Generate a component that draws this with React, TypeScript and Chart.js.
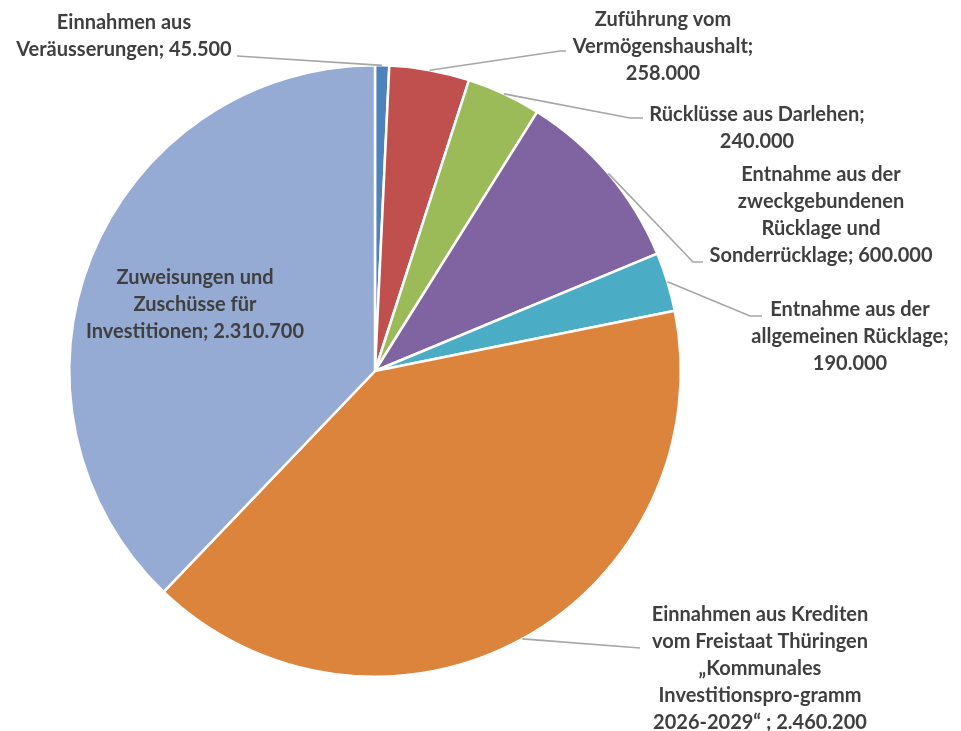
import React, { useEffect, useRef } from "react";
import { Chart, registerables } from "chart.js";

Chart.register(...registerables);

const categories: string[] = [
  "Einnahmen aus\nVeräusserungen",
  "Zuführung vom\nVermögenshaushalt",
  "Rücklüsse aus Darlehen",
  "Entnahme aus der\nzweckgebundenen\nRücklage und\nSonderrücklage",
  "Entnahme aus der\nallgemeinen Rücklage",
  "Einnahmen aus Krediten\nvom Freistaat Thüringen\n„Kommunales\nInvestitionspro-gramm\n2026-2029“ ",
  "Zuweisungen und\nZuschüsse für\nInvestitionen",
];

const values: number[] = [45500, 258000, 240000, 600000, 190000, 2460200, 2310700];

const colors: string[] = [
  "#4F81BD",
  "#C0504D",
  "#9BBB59",
  "#8064A2",
  "#4BACC6",
  "#DC843B",
  "#95ABD3",
];

// label layout (text block centre x, first line centre y, leader end / elbow)
type LabelLayout = {
  cx: number;
  y0: number;
  valueNewLine: boolean;
  inside?: boolean;
  end?: [number, number];
  elbow?: [number, number];
};

const labelLayout: LabelLayout[] = [
  { cx: 124, y0: 23, valueNewLine: false, end: [237, 56] },
  { cx: 663, y0: 20, valueNewLine: true, elbow: [560, 51], end: [566, 51] },
  { cx: 757, y0: 115, valueNewLine: true, elbow: [630, 118], end: [643, 118] },
  { cx: 821, y0: 175, valueNewLine: false, elbow: [693, 262], end: [703, 262] },
  { cx: 850, y0: 310, valueNewLine: true, elbow: [750, 316], end: [762, 316] },
  { cx: 760, y0: 615, valueNewLine: false, end: [640, 648] },
  { cx: 195, y0: 278, valueNewLine: false, inside: true },
];

const fmt = (v: number) => String(v).replace(/\B(?=(\d{3})+(?!\d))/g, ".");

const labelPlugin = {
  id: "pieLabels",
  afterDatasetsDraw(chart: any) {
    const ctx = chart.ctx as CanvasRenderingContext2D;
    const meta = chart.getDatasetMeta(0);
    ctx.save();
    meta.data.forEach((arc: any, i: number) => {
      const L = labelLayout[i];
      const { x, y, startAngle, endAngle, outerRadius } = arc.getProps(
        ["x", "y", "startAngle", "endAngle", "outerRadius"],
        true
      );
      const mid = (startAngle + endAngle) / 2;
      if (!L.inside && L.end) {
        const px = x + Math.cos(mid) * outerRadius;
        const py = y + Math.sin(mid) * outerRadius;
        ctx.beginPath();
        ctx.strokeStyle = "#A6A6A6";
        ctx.lineWidth = 1.6;
        ctx.moveTo(px, py);
        if (L.elbow) ctx.lineTo(L.elbow[0], L.elbow[1]);
        ctx.lineTo(L.end[0], L.end[1]);
        ctx.stroke();
      }
      const text = categories[i] + (L.valueNewLine ? ";\n" : "; ") + fmt(values[i]);
      const lines = text.split("\n");
      ctx.fillStyle = "#3F3F3F";
      ctx.font = "bold 20px Lato, 'Open Sans', sans-serif";
      ctx.textAlign = "center";
      ctx.textBaseline = "middle";
      lines.forEach((ln, k) => {
        ctx.fillText(ln, L.cx, L.y0 + k * 27);
      });
    });
    ctx.restore();
  },
};

export default function App() {
  const ref = useRef<HTMLCanvasElement | null>(null);
  useEffect(() => {
    if (!ref.current) return;
    const chart = new Chart(ref.current, {
      type: "pie",
      data: {
        labels: categories,
        datasets: [
          {
            data: values,
            backgroundColor: colors,
            borderColor: "#FFFFFF",
            borderWidth: 2.5,
          },
        ],
      },
      options: {
        animation: false,
        responsive: true,
        maintainAspectRatio: false,
        layout: { padding: { top: 64, bottom: 53, left: 68, right: 279 } },
        plugins: {
          legend: { display: false },
          tooltip: { enabled: false },
        },
      },
      plugins: [labelPlugin],
    });
    return () => chart.destroy();
  }, []);
  return (
    <div style={{ position: "absolute", left: 0, top: 0, width: 961, height: 731, background: "#fff" }}>
      <canvas ref={ref} />
    </div>
  );
}
